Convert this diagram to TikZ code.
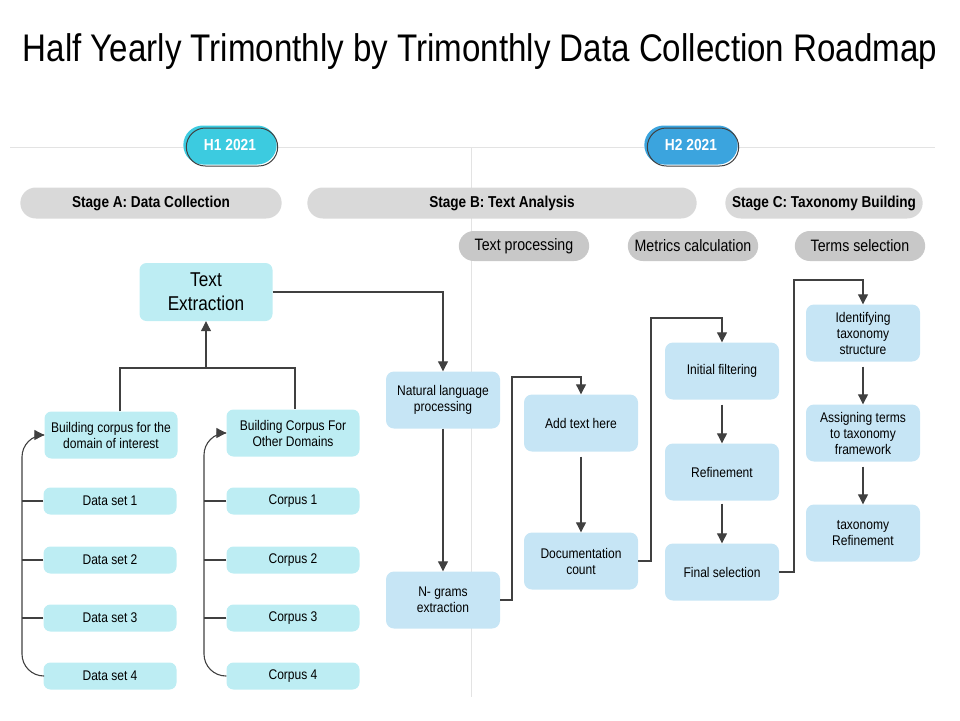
\documentclass[tikz,border=0pt]{standalone}
\usepackage{fontspec}
\setmainfont[FakeStretch=0.86]{Liberation Sans}
\usepackage{tikz}
\usetikzlibrary{arrows.meta}
\usetikzlibrary{shapes.misc}

\definecolor{linegray}{HTML}{404040}
\definecolor{railgray}{HTML}{E3E3E3}
\definecolor{stagegray}{HTML}{D9D9D9}
\definecolor{subgray}{HTML}{C8C8C8}
\definecolor{cyanbox}{HTML}{BDEDF3}
\definecolor{bluebox}{HTML}{C6E5F5}
\definecolor{hcyan}{HTML}{3CCBE0}
\definecolor{hblue}{HTML}{3BA4DE}

\begin{document}
\begin{tikzpicture}[x=1pt,y=-1pt,
    rail/.style={draw=railgray,line width=1pt},
    wire/.style={draw=linegray,line width=1.1pt},
    arr/.style={wire,-{Triangle[length=10pt,width=10pt]}},
    hpill/.style={rounded rectangle,minimum width=100pt,minimum height=39pt,
      text=white,font=\fontsize{16}{18}\selectfont\bfseries},
    stage/.style={rounded rectangle,fill=stagegray,minimum height=31pt,
      font=\fontsize{15.8}{18}\selectfont\bfseries},
    substage/.style={rounded rectangle,fill=subgray,minimum width=137pt,minimum height=30pt,
      font=\fontsize{16.5}{18}\selectfont},
    cbox/.style={fill=cyanbox,rounded corners=7pt,minimum width=133pt,align=center,
      inner sep=2pt,font=\fontsize{14}{16}\selectfont},
    bbox/.style={fill=bluebox,rounded corners=8pt,minimum width=114pt,minimum height=57pt,
      align=center,inner sep=2pt,font=\fontsize{14}{16}\selectfont}]
  \useasboundingbox
    (0,0)
    rectangle
    (960,720);
  % title and time rails
  \node (title) at (480,52) {\fontsize{38.5}{44}\selectfont Half Yearly Trimonthly by Trimonthly Data Collection Roadmap};
  \draw[rail]
    (10,147)
    --
    (935,147);
  \draw[rail]
    (471,147)
    --
    (471,697);
  \node[hpill,fill=hcyan] (h1) at (230,145) {H1 2021};
  \draw[linegray,line width=1pt]
    (232,147) node[rounded rectangle,draw,minimum width=98pt,minimum height=38pt] (h1rim) {};
  \node[hpill,fill=hblue] (h2) at (691,145) {H2 2021};
  \draw[linegray,line width=1pt]
    (693,147) node[rounded rectangle,draw,minimum width=98pt,minimum height=38pt] (h2rim) {};
  % stages
  \node[stage,minimum width=268pt] (sa) at (151,203) {Stage A: Data Collection};
  \node[stage,minimum width=396pt] (sb) at (502,203) {Stage B: Text Analysis};
  \node[stage,minimum width=204pt] (sc) at (824,203) {Stage C: Taxonomy Building};
  \node[substage] (tp) at (524,246) {Text processing};
  \node[substage] (mc) at (693,246) {Metrics calculation};
  \node[substage] (ts) at (860,246) {Terms selection};
  % stage A
  \node[cbox,minimum height=58pt,font=\fontsize{20}{24}\selectfont] (tx) at (206,292) {Text\\Extraction};
  \node[cbox,minimum height=47pt] (own) at (111,435) {Building corpus for the\\domain of interest};
  \node[cbox,minimum height=47pt] (oth) at (293,433) {Building Corpus For\\Other Domains};
  \foreach \i/\y in {1/501,2/560,3/618,4/676} {
    \node[cbox,minimum height=27pt] (ds\i) at (110,\y) {Data set \i};
    \node[cbox,minimum height=27pt] (cp\i) at (293,\y) {Corpus \i};
  }
  \coordinate (joint) at (206,368);
  \coordinate (lrail) at (22,0);
  \coordinate (rrail) at (204,0);
  \draw[wire]
    ([xshift=9pt]own.north)
    |-
    (joint)
    -|
    ([xshift=2pt]oth.north);
  \draw[arr]
    (joint)
    --
    (tx.south);
  \draw[arr,rounded corners=22pt]
    (ds4.west)
    -|
    (own.west -| lrail)
    --
    (own.west);
  \draw[arr,rounded corners=22pt]
    (cp4.west)
    -|
    (oth.west -| rrail)
    --
    (oth.west);
  \foreach \i in {1,2,3} {
    \draw[wire] (ds\i.west) -- (ds\i.west -| lrail);
    \draw[wire] (cp\i.west) -- (cp\i.west -| rrail);
  }
  % stage B
  \node[bbox] (nlp) at (443,400) {Natural language\\processing};
  \node[bbox] (ngr) at (443,600) {N- grams\\extraction};
  \node[bbox] (add) at (581,423) {Add text here};
  \node[bbox] (doc) at (581,561) {Documentation\\count};
  \node[bbox] (ini) at (722,371) {Initial filtering};
  \node[bbox] (ref) at (722,472) {Refinement};
  \node[bbox] (fin) at (722,572) {Final selection};
  % stage C
  \node[bbox] (idt) at (863,333) {Identifying\\taxonomy\\structure};
  \node[bbox] (asg) at (863,433) {Assigning terms\\to taxonomy\\framework};
  \node[bbox] (trf) at (863,533) {taxonomy\\Refinement};
  \draw[arr]
    (tx.east)
    -|
    (nlp.north);
  \draw[arr]
    (nlp.south)
    --
    (ngr.north);
  \draw[arr]
    (ngr.east)
    -|
    (512,377)
    -|
    (add.north);
  \draw[arr,shorten <=5pt]
    (add.south)
    --
    (doc.north);
  \draw[arr]
    (doc.east)
    -|
    (651,318)
    -|
    (ini.north);
  \draw[arr,shorten <=5pt]
    (ini.south)
    --
    (ref.north);
  \draw[arr,shorten <=3pt]
    (ref.south)
    --
    (fin.north);
  \draw[arr]
    (fin.east)
    -|
    (794,280)
    -|
    (idt.north);
  \draw[arr,shorten <=5pt]
    (idt.south)
    --
    (asg.north);
  \draw[arr,shorten <=5pt]
    (asg.south)
    --
    (trf.north);
\end{tikzpicture}
\end{document}
